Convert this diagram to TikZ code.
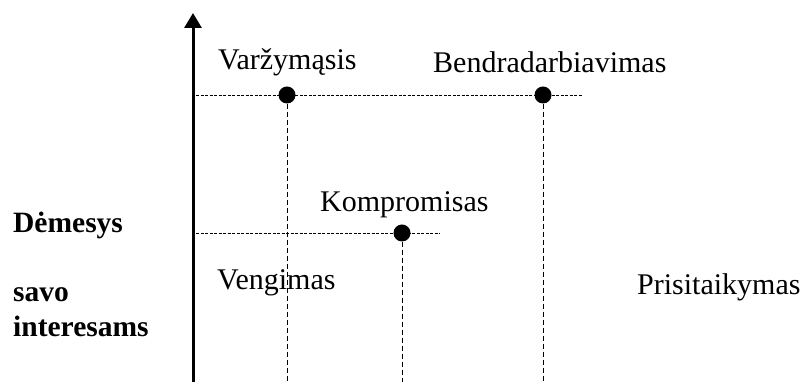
\documentclass[tikz,border=0pt]{standalone}
\usepackage{fontspec}
\setmainfont{Liberation Serif}
\usetikzlibrary{arrows.meta}
\begin{document}
\begin{tikzpicture}[x=1pt, y=1pt,
    dot node/.style={circle, fill, inner sep=0pt, minimum size=17pt},
    text node/.style={anchor=base west, inner sep=0pt, font=\fontsize{30}{36}\selectfont},
    side node/.style={anchor=base west, inner sep=0pt, font=\fontsize{29.5}{35}\selectfont\bfseries},
    level line/.style={line width=0.8pt, dash pattern=on 3pt off 1.5pt},
    drop line/.style={line width=1pt, dash pattern=on 5pt off 3pt}]
        \useasboundingbox (0,0) rectangle (811,382);

          % axis
          \coordinate (o) at (193,0);
          \coordinate (top) at (193,369);
          \draw[line width=3pt, -{Triangle[length=15pt, width=17pt]}] (o) -- (top);

          % points
          \node[dot node] (var) at (287,287) {};
          \node[dot node] (ben) at (543,287) {};
          \node[dot node] (kom) at (402,149) {};

          % levels
          \coordinate (l1) at (196,287);
          \coordinate (r1) at (582,287);
          \coordinate (l2) at (196,149);
          \coordinate (r2) at (440,149);
          \draw[level line] (l1) -- (r1);
          \draw[level line] (l2) -- (r2);

          % drops
          \coordinate (var b) at (287,0);
          \coordinate (ben b) at (543,0);
          \coordinate (kom b) at (402,0);
          \draw[drop line] (var) -- (var b);
          \draw[drop line] (ben) -- (ben b);
          \draw[drop line] (kom) -- (kom b);

          % labels
          \node[text node] (t1) at (218,312) {Varžymąsis};
          \node[text node] (t2) at (433,309) {Bendradarbiavimas};
          \node[text node] (t3) at (320,170) {Kompromisas};
          \node[text node] (t4) at (217,92) {Vengimas};
          \node[text node] (t5) at (637,87) {Prisitaikymas};
          \node[side node] (s1) at (13,149) {Dėmesys};
          \node[side node] (s2) at (13,80) {savo};
          \node[side node] (s3) at (13,45) {interesams};

\end{tikzpicture}
\end{document}
